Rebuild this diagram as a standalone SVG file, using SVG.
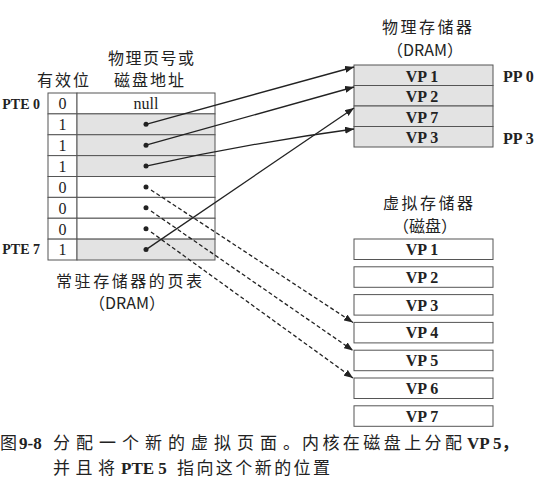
<svg xmlns="http://www.w3.org/2000/svg" width="547" height="504" viewBox="0 0 547 504">
<style>
.cjk{font-family:"Noto Sans CJK SC","Noto Sans",sans-serif;font-size:16px;fill:#222;text-anchor:middle}
.lat{font-family:"Liberation Serif","Noto Sans CJK SC",serif;font-size:16px;fill:#222;text-anchor:middle}
.b{font-weight:bold}
.cell{fill:#fff;stroke:#555;stroke-width:1}
.sh{fill:#e3e3e3;stroke:#555;stroke-width:1}
.conn{fill:none;stroke:#222;stroke-width:1.3}
.dash{stroke-dasharray:4 2.5}
.dot{fill:#222}
.cap{font-family:"Noto Sans CJK SC",sans-serif;font-size:17px;fill:#222}
.capl{font-family:"Liberation Serif","Noto Sans CJK SC",serif;font-size:17px;font-weight:bold;fill:#222}
</style>
<defs>
<marker id="ah" viewBox="0 0 9 7" refX="9" refY="3.5" markerWidth="9" markerHeight="7" markerUnits="userSpaceOnUse" orient="auto">
<path d="M0,0 L9,3.5 L0,7 z" fill="#222" stroke="none"/>
</marker>
</defs>
<rect width="547" height="504" fill="#fff"/>

<g id="page-table">
<text class="cjk" x="151" y="64" textLength="86" lengthAdjust="spacing">物理页号或</text>
<text class="cjk" x="149" y="86" textLength="70" lengthAdjust="spacing">磁盘地址</text>
<text class="cjk" x="63" y="86" textLength="52" lengthAdjust="spacing">有效位</text>
<text class="lat b" x="40" y="109" style="text-anchor:end;font-size:14px">PTE 0</text>
<text class="lat b" x="40" y="254" style="text-anchor:end;font-size:14px">PTE 7</text>
<rect class="cell" x="48" y="93" width="29" height="20.875"/>
<rect class="cell" x="77" y="93" width="138" height="20.875"/>
<rect class="cell" x="48" y="113.875" width="29" height="20.875"/>
<rect class="sh" x="77" y="113.875" width="138" height="20.875"/>
<rect class="cell" x="48" y="134.75" width="29" height="20.875"/>
<rect class="sh" x="77" y="134.75" width="138" height="20.875"/>
<rect class="cell" x="48" y="155.625" width="29" height="20.875"/>
<rect class="sh" x="77" y="155.625" width="138" height="20.875"/>
<rect class="cell" x="48" y="176.5" width="29" height="20.875"/>
<rect class="cell" x="77" y="176.5" width="138" height="20.875"/>
<rect class="cell" x="48" y="197.375" width="29" height="20.875"/>
<rect class="cell" x="77" y="197.375" width="138" height="20.875"/>
<rect class="cell" x="48" y="218.25" width="29" height="20.875"/>
<rect class="cell" x="77" y="218.25" width="138" height="20.875"/>
<rect class="cell" x="48" y="239.125" width="29" height="20.875"/>
<rect class="sh" x="77" y="239.125" width="138" height="20.875"/>
<text class="lat" x="62.5" y="109">0</text>
<text class="lat" x="146" y="109">null</text>
<text class="lat" x="62.5" y="130">1</text>
<text class="lat" x="62.5" y="151">1</text>
<text class="lat" x="62.5" y="172">1</text>
<text class="lat" x="62.5" y="192.5">0</text>
<text class="lat" x="62.5" y="213.5">0</text>
<text class="lat" x="62.5" y="234.5">0</text>
<text class="lat" x="62.5" y="255">1</text>
<circle class="dot" cx="146" cy="124.3" r="2.5"/>
<circle class="dot" cx="146" cy="145.2" r="2.5"/>
<circle class="dot" cx="146" cy="166.1" r="2.5"/>
<circle class="dot" cx="146" cy="187" r="2.5"/>
<circle class="dot" cx="146" cy="207.8" r="2.5"/>
<circle class="dot" cx="146" cy="228.7" r="2.5"/>
<circle class="dot" cx="146" cy="249.6" r="2.5"/>
<text class="cjk" x="129" y="287" textLength="146" lengthAdjust="spacing">常驻存储器的页表</text>
<text class="cjk" x="127" y="309">（DRAM）</text>
</g>

<g id="physical-memory">
<text class="cjk" x="427" y="33" textLength="90" lengthAdjust="spacing">物理存储器</text>
<text class="cjk" x="425" y="56">（DRAM）</text>
<rect class="sh" x="354" y="65" width="139" height="20.5"/>
<rect class="sh" x="354" y="85.5" width="139" height="20.5"/>
<rect class="sh" x="354" y="106" width="139" height="20.5"/>
<rect class="sh" x="354" y="126.5" width="139" height="20.5"/>
<text class="lat b" x="422" y="81.5">VP 1</text>
<text class="lat b" x="422" y="102">VP 2</text>
<text class="lat b" x="422" y="122.5">VP 7</text>
<text class="lat b" x="422" y="143">VP 3</text>
<text class="lat b" x="503" y="82" style="text-anchor:start">PP 0</text>
<text class="lat b" x="503" y="144" style="text-anchor:start">PP 3</text>
</g>

<g id="disk">
<text class="cjk" x="428" y="209" textLength="90" lengthAdjust="spacing">虚拟存储器</text>
<text class="cjk" x="425" y="232">（磁盘）</text>
<rect class="cell" x="354" y="239" width="139" height="20.5"/>
<rect class="cell" x="354" y="266.8" width="139" height="20.5"/>
<rect class="cell" x="354" y="294.6" width="139" height="20.5"/>
<rect class="cell" x="354" y="322.4" width="139" height="20.5"/>
<rect class="cell" x="354" y="350.2" width="139" height="20.5"/>
<rect class="cell" x="354" y="378" width="139" height="20.5"/>
<rect class="cell" x="354" y="405.8" width="139" height="20.5"/>
<text class="lat b" x="422" y="255">VP 1</text>
<text class="lat b" x="422" y="282.8">VP 2</text>
<text class="lat b" x="422" y="310.6">VP 3</text>
<text class="lat b" x="422" y="338.4">VP 4</text>
<text class="lat b" x="422" y="366.2">VP 5</text>
<text class="lat b" x="422" y="394">VP 6</text>
<text class="lat b" x="422" y="421.8">VP 7</text>
</g>

<g id="connectors">
<path class="conn" d="M146,124.3 L354,67" marker-end="url(#ah)"/>
<path class="conn" d="M146,145.2 L354,87" marker-end="url(#ah)"/>
<path class="conn" d="M146,166.1 Q250,143 354,129" marker-end="url(#ah)"/>
<path class="conn" d="M146,249.6 L354,108" marker-end="url(#ah)"/>
<path class="conn dash" d="M151,190 L353,322.5" marker-end="url(#ah)"/>
<path class="conn dash" d="M151,211 L353,350.5" marker-end="url(#ah)"/>
<path class="conn dash" d="M151,232 L353,378" marker-end="url(#ah)"/>
</g>

<g id="caption">
<text class="cap" x="0" y="449">图</text>
<text class="capl" x="19" y="449">9-8</text>
<text class="cap" x="53" y="449" textLength="247" lengthAdjust="spacing">分配一个新的虚拟页面。</text>
<text class="cap" x="302" y="449" textLength="160" lengthAdjust="spacing">内核在磁盘上分配</text>
<text class="capl" x="467" y="449">VP 5，</text>
<text class="cap" x="53" y="474" textLength="62" lengthAdjust="spacing">并且将</text>
<text class="capl" x="121" y="474">PTE 5</text>
<text class="cap" x="177" y="474" textLength="153" lengthAdjust="spacing">指向这个新的位置</text>
</g>
</svg>
